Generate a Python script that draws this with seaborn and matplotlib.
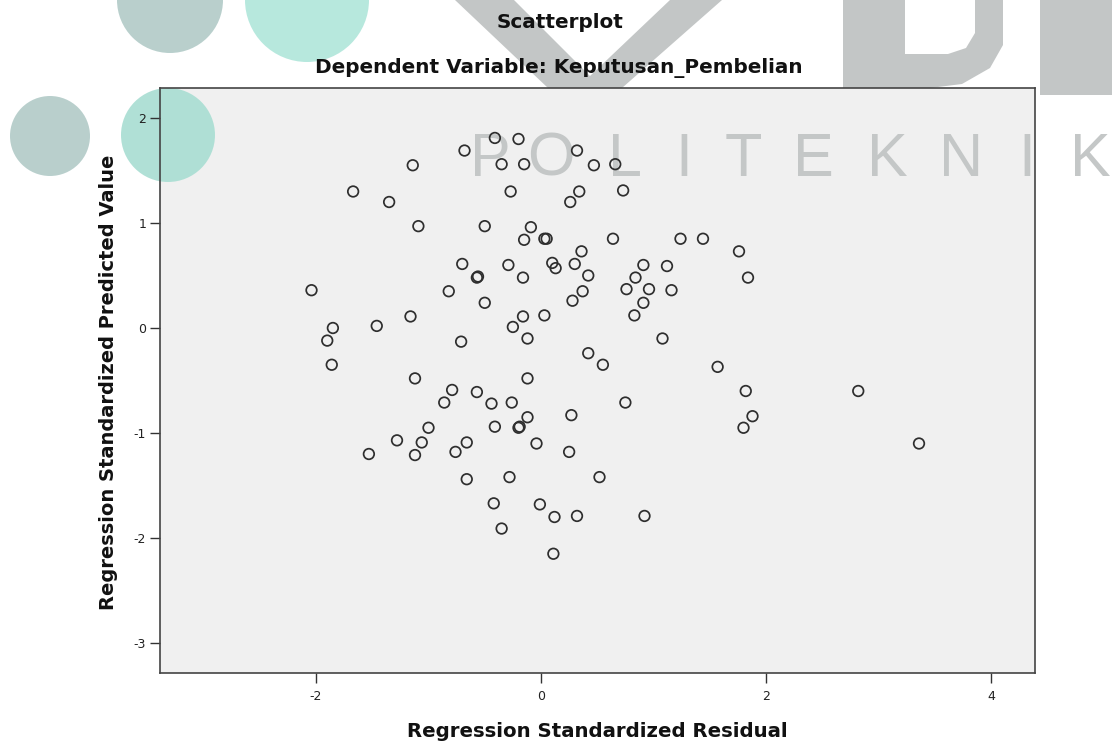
import matplotlib
matplotlib.use("Agg")
import matplotlib.pyplot as plt
import matplotlib.patches as mpatches
import seaborn as sns
import pandas as pd

# ---- data ----
residual = [-0.41, -0.20, -0.68, 0.32, -1.14, -0.35, -0.15, 0.47, 0.66, -1.67,
            -0.27, 0.34, 0.73, -1.35, 0.26, -1.09, -0.50, -0.09, -0.15, 0.03,
            0.05, 0.64, 1.24, 1.44, 0.36, 1.76, -0.70, -0.29, 0.10, 0.13,
            0.30, 0.91, 1.12, -0.56, -0.57, -0.16, 0.42, 0.84, 1.84, -2.04,
            -0.82, -0.50, 0.28, 0.37, 0.76, 0.96, 1.16, 0.91, -1.16, -0.16,
            0.03, 0.83, -1.85, -1.46, -0.25, -1.90, -0.71, -0.12, 1.08, 0.42,
            -1.86, 0.55, 1.57, -1.12, -0.12, -0.79, -0.57, 1.82, 2.82, -0.86,
            -0.44, -0.26, 0.75, 0.27, -0.12, 1.88, -1.00, -0.41, -0.20, -0.19,
            1.80, -1.28, -1.06, -0.66, -0.04, 3.36, -1.53, -1.12, -0.76, 0.25,
            -0.66, -0.28, 0.52, -0.42, -0.01, 0.12, 0.32, 0.92, -0.35, 0.11]
predicted = [1.81, 1.80, 1.69, 1.69, 1.55, 1.56, 1.56, 1.55, 1.56, 1.30,
             1.30, 1.30, 1.31, 1.20, 1.20, 0.97, 0.97, 0.96, 0.84, 0.85,
             0.85, 0.85, 0.85, 0.85, 0.73, 0.73, 0.61, 0.60, 0.62, 0.57,
             0.61, 0.60, 0.59, 0.49, 0.48, 0.48, 0.50, 0.48, 0.48, 0.36,
             0.35, 0.24, 0.26, 0.35, 0.37, 0.37, 0.36, 0.24, 0.11, 0.11,
             0.12, 0.12, 0.00, 0.02, 0.01, -0.12, -0.13, -0.10, -0.10, -0.24,
             -0.35, -0.35, -0.37, -0.48, -0.48, -0.59, -0.61, -0.60, -0.60, -0.71,
             -0.72, -0.71, -0.71, -0.83, -0.85, -0.84, -0.95, -0.94, -0.95, -0.94,
             -0.95, -1.07, -1.09, -1.09, -1.10, -1.10, -1.20, -1.21, -1.18, -1.18,
             -1.44, -1.42, -1.42, -1.67, -1.68, -1.80, -1.79, -1.79, -1.91, -2.15]

x_ticks = [-2, 0, 2, 4]
y_ticks = [-3, -2, -1, 0, 1, 2]
title1 = "Scatterplot"
title2 = "Dependent Variable: Keputusan_Pembelian"
xlabel = "Regression Standardized Residual"
ylabel = "Regression Standardized Predicted Value"
watermark_word = "POLITEKNIK"

df = pd.DataFrame({"resid": residual, "pred": predicted})

W, H = 1112, 747
fig = plt.figure(figsize=(W / 100, H / 100), dpi=100)
fig.patch.set_facecolor("white")
ax = fig.add_axes([160 / W, 1 - 673 / H, 875 / W, 585 / H])
ax.set_facecolor("#f0f0f0")


def fx(px):
    return px / W


def fy(py):
    return 1 - py / H


def fig_patch(p, z=0.6):
    p.set_transform(fig.transFigure)
    p.set_clip_on(False)
    p.set_zorder(z)
    ax.add_patch(p)


# ---- watermark decoration ----
big_gray = "#c3c6c6"
v_pts = [(455, 0), (514, 0), (590, 76), (670, 0), (722, 0), (622, 88), (548, 88)]
fig_patch(mpatches.Polygon([(fx(a), fy(b)) for a, b in v_pts], closed=True,
                           facecolor=big_gray, edgecolor="none"))
d_pts = [(843, 0), (1003, 0), (1003, 45), (990, 68), (962, 84), (930, 88), (843, 88)]
fig_patch(mpatches.Polygon([(fx(a), fy(b)) for a, b in d_pts], closed=True,
                           facecolor=big_gray, edgecolor="none"))
d_in = [(905, 0), (975, 0), (975, 33), (966, 48), (948, 54), (905, 54)]
fig_patch(mpatches.Polygon([(fx(a), fy(b)) for a, b in d_in], closed=True,
                           facecolor="white", edgecolor="none"), z=0.61)
fig_patch(mpatches.Rectangle((fx(1040), fy(95)), fx(1112) - fx(1040), fy(0) - fy(95),
                             facecolor=big_gray, edgecolor="none"))

circles = [((170, 0), 53, "#b5cdca"), ((307, 0), 62, "#b3e7dc"),
           ((50, 136), 40, "#b5cdca"), ((168, 135), 47, "#acdfd4")]
for (cx, cy), r, c in circles:
    fig_patch(mpatches.Ellipse((fx(cx), fy(cy)), 2 * r / W, 2 * r / H,
                               facecolor=c, edgecolor="none", alpha=0.95), z=0.7)

letter_x = [490, 551, 625, 684, 743, 813, 887, 961, 1027, 1090]
for ch, lx in zip(watermark_word, letter_x):
    ax.text(fx(lx), fy(160), ch, transform=fig.transFigure, ha="center", va="center",
            fontsize=44, color="#c4c7c7", family="Liberation Sans", clip_on=False,
            zorder=0.9)

# ---- scatter ----
sns.scatterplot(data=df, x="resid", y="pred", ax=ax, marker="o", s=58,
                facecolor="none", edgecolor="#2e2e2e", linewidth=1.25, zorder=3,
                legend=False)

ax.set_xlim((160 - 541) / 112.5, (1035 - 541) / 112.5)
ax.set_ylim((328 - 673) / 105, (328 - 88) / 105)
ax.set_xticks(x_ticks)
ax.set_yticks(y_ticks)
ax.set_xticklabels([str(t) for t in x_ticks])
ax.set_yticklabels([str(t) for t in y_ticks])
ax.tick_params(axis="both", direction="out", length=7, width=1.0, color="#333333",
               labelsize=9, labelcolor="#222222", pad=3)
ax.tick_params(axis="x", pad=5)
for sp in ax.spines.values():
    sp.set_color("#444444")
    sp.set_linewidth(1.2)
    sp.set_zorder(4)

ax.set_xlabel(xlabel, fontsize=14.2, fontweight="bold", color="#111111")
ax.set_ylabel(ylabel, fontsize=14, fontweight="bold", color="#111111")
ax.xaxis.set_label_coords(0.5, -0.083)
ax.yaxis.set_label_coords(-0.048, 0.497)

fig.text(fx(560), fy(22), title1, ha="center", va="center", fontsize=14.4,
         fontweight="bold", color="#111111")
fig.text(fx(559), fy(68), title2, ha="center", va="center", fontsize=14.4,
         fontweight="bold", color="#111111")

fig.savefig("out.png", dpi=100, facecolor="white")
